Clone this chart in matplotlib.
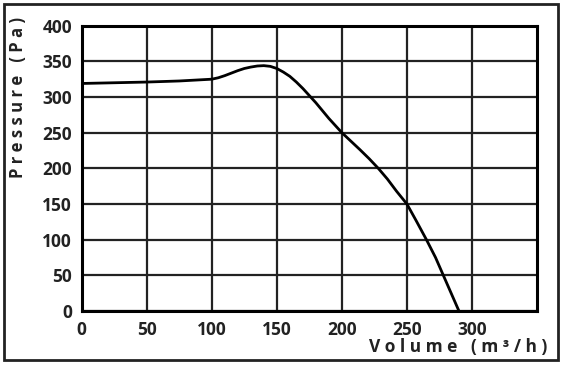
import matplotlib
matplotlib.use("Agg")
import matplotlib.pyplot as plt
from matplotlib.patches import Rectangle

volume = [0, 25, 50, 75, 100, 105, 110, 115, 120, 125, 130, 135, 140, 145, 150,
          155, 160, 165, 170, 175, 180, 185, 190, 195, 200,
          207, 214, 221, 228, 235, 242, 250, 257, 265, 272, 278, 284, 290]
pressure = [319, 320, 321, 322.5, 325, 327, 330, 333.5, 337, 340, 342, 343.5, 344, 343, 340,
            335, 329, 321, 312, 302, 292, 281, 270, 260, 250,
            238, 226, 213.5, 200, 185, 168, 150, 127, 100, 75, 50, 25, 0]

xticks = [0, 50, 100, 150, 200, 250, 300]
yticks = [0, 50, 100, 150, 200, 250, 300, 350, 400]
xlabel = "V o l u m e   ( m ³ / h )"
ylabel = "P r e s s u r e   ( P a )"

plt.rcParams['font.family'] = ['Open Sans', 'DejaVu Sans']
fig = plt.figure(figsize=(5.64, 3.67), dpi=100)
ax = fig.add_axes([81.7/564, 1-311/367, (537-81.7)/564, (311-25.7)/367])

ax.plot(volume, pressure, color='black', lw=2.0, solid_capstyle='butt',
        solid_joinstyle='round', zorder=3)
ax.set_xlim(0, 350)
ax.set_ylim(0, 400)
ax.set_xticks(xticks)
ax.set_yticks(yticks)
ax.grid(True, color='#222222', lw=1.6)
ax.set_axisbelow(True)
for s in ax.spines.values():
    s.set_linewidth(2.2)
    s.set_color('black')
ax.tick_params(length=0, labelsize=12.5)
ax.tick_params(axis='x', pad=7)
ax.tick_params(axis='y', pad=7)
for lab in ax.get_xticklabels() + ax.get_yticklabels():
    lab.set_fontweight('bold')
    lab.set_color('#222222')

fig.text(547/564, 1-347/367, xlabel, ha='right', va='center', fontsize=12.5,
         fontweight='bold', color='#222222')
fig.text(18/564, 1-97/367, ylabel, ha='center', va='center', rotation=90,
         fontsize=12, fontweight='bold', color='#222222')

fig.patches.append(Rectangle((4/564, 1-360/367), 554/564, 356/367, transform=fig.transFigure,
                             fill=False, lw=2, edgecolor='#222222'))

fig.savefig("out.png", dpi=100)
